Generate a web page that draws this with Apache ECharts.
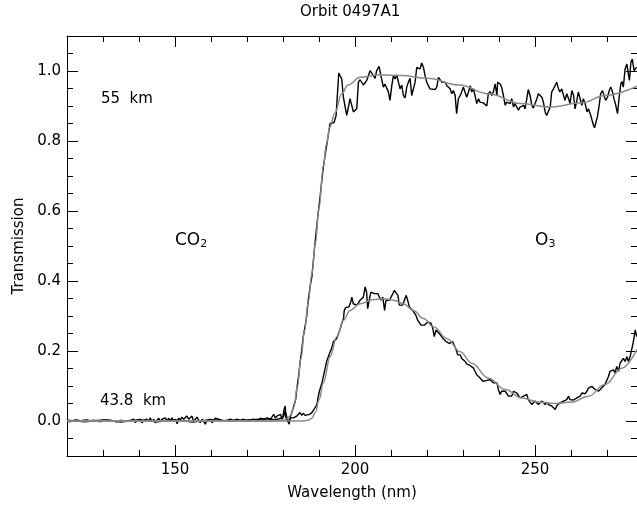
<!DOCTYPE html>
<html>
<head>
<meta charset="utf-8">
<script src="https://cdn.jsdelivr.net/npm/echarts@6/dist/echarts.min.js"></script>
<style>
  html, body { margin: 0; padding: 0; background: #fff; }
  #chart { width: 637px; height: 506px; }
</style>
</head>
<body>
<div id="chart"></div>
<script>
// ticks
var xMajor = [150, 200, 250];
var xMinor = [130, 140, 160, 170, 180, 190, 210, 220, 230, 240, 260, 270];
var yMajor = [0, 0.2, 0.4, 0.6, 0.8, 1.0];
var yMinor = [-0.05, 0.05, 0.1, 0.15, 0.25, 0.3, 0.35, 0.45, 0.5, 0.55, 0.65, 0.7, 0.75, 0.85, 0.9, 0.95, 1.05];

// 55 km measured transmission [wavelength nm, T]
var obs55 = [
  [120, 0.002], [125, -0.002], [130, 0.003], [135, -0.003], [140, 0.004], [145, -0.002], [150, 0.003],
  [155, -0.003], [160, 0.004], [165, 0.000], [170, 0.003], [175, 0.006], [178, 0.004],
  [179.2, 0.007], [179.9, 0.010], [180.3, 0.033], [180.6, 0.043], [180.8, 0.010], [181.2, 0.014],
  [181.7, -0.009], [182.1, 0.014], [182.7, 0.033], [183.1, 0.047], [183.5, 0.061], [183.8, 0.090],
  [184.3, 0.127], [184.7, 0.165], [185.2, 0.203], [185.6, 0.241], [186.1, 0.269], [186.6, 0.302],
  [187.0, 0.345], [187.5, 0.383], [188.0, 0.411], [188.8, 0.50], [189.5, 0.57], [190.3, 0.642],
  [191.2, 0.727], [193.06, 0.850], [194.17, 0.853], [194.73, 0.873], [195.47, 0.994], [196.3, 0.977],
  [196.76, 0.925], [197.2, 0.921], [197.69, 0.873], [198.15, 0.897], [198.6, 0.921], [199.07, 0.923],
  [199.54, 0.883], [200.0, 0.878], [200.47, 0.892], [200.93, 0.968], [201.4, 0.975], [202.3, 0.96],
  [203.24, 0.973], [204.17, 1.001], [204.6, 1.006], [205.1, 0.987], [205.56, 0.979], [206.0, 1.001],
  [206.67, 1.013], [207.13, 0.989], [207.87, 0.954], [208.3, 0.963], [208.8, 0.951], [209.26, 0.940],
  [209.7, 0.916], [210.2, 0.958], [210.65, 0.987], [211.1, 0.977], [211.6, 0.989], [212.04, 0.968],
  [212.5, 0.949], [212.96, 0.960], [213.43, 0.930], [213.9, 0.923], [214.35, 0.954], [214.8, 0.968],
  [215.28, 0.979], [215.74, 0.930], [216.2, 0.930], [216.67, 0.968], [217.13, 1.010], [217.6, 1.015],
  [218.06, 1.006], [218.52, 1.023], [219.0, 1.010], [219.45, 0.987], [219.9, 0.968], [220.8, 0.949],
  [221.3, 0.944], [222.2, 0.947], [222.7, 0.954], [223.15, 0.982], [223.6, 0.977], [224.1, 0.968],
  [224.5, 0.963], [225.0, 0.968], [225.5, 0.958], [225.9, 0.963], [226.4, 0.949], [226.85, 0.935],
  [227.3, 0.944], [227.8, 0.930], [228.2, 0.878], [228.7, 0.921], [229.2, 0.930],
  [229.6, 0.940], [230.1, 0.954], [230.6, 0.949], [231.0, 0.925], [231.5, 0.940], [232.0, 0.958],
  [232.4, 0.940], [232.9, 0.949], [233.3, 0.930], [233.8, 0.907], [234.3, 0.921], [234.7, 0.911],
  [235.2, 0.907], [235.6, 0.909], [236.1, 0.904], [236.6, 0.900], [237.0, 0.935], [237.5, 0.941],
  [238.0, 0.930], [238.4, 0.940], [238.9, 0.963], [239.4, 0.930], [239.6, 0.968], [240.3, 0.963],
  [240.7, 0.954], [241.2, 0.930], [241.7, 0.902], [242.1, 0.911], [242.6, 0.916], [243.1, 0.907],
  [243.5, 0.921], [244.0, 0.897], [244.4, 0.907], [244.9, 0.902], [245.4, 0.888], [245.8, 0.897],
  [246.3, 0.892], [246.8, 0.902], [247.2, 0.892], [247.7, 0.921], [248.1, 0.947], [248.6, 0.930],
  [249.1, 0.902], [249.5, 0.894], [250.0, 0.897], [250.5, 0.921], [250.9, 0.935], [251.4, 0.930],
  [251.9, 0.925], [252.3, 0.911], [252.8, 0.883], [253.2, 0.873], [253.7, 0.869], [254.2, 0.897],
  [254.6, 0.940], [255.1, 0.949], [255.6, 0.954], [256.0, 0.968], [256.5, 0.949], [256.9, 0.940],
  [257.4, 0.949], [257.9, 0.930], [258.3, 0.916], [258.8, 0.935], [259.3, 0.921], [259.7, 0.907],
  [260.2, 0.944], [260.7, 0.930], [261.1, 0.892], [261.6, 0.916], [262.0, 0.940], [262.5, 0.935],
  [263.0, 0.902], [263.4, 0.921], [263.9, 0.907], [264.4, 0.883], [264.8, 0.892], [265.3, 0.878],
  [265.7, 0.864], [266.2, 0.845], [266.5, 0.838], [266.9, 0.840], [267.3, 0.869], [267.8, 0.902],
  [268.2, 0.935], [268.7, 0.944], [269.2, 0.949], [269.6, 0.916], [270.1, 0.925], [270.6, 0.944],
  [271.0, 0.954], [271.5, 0.940], [271.9, 0.921], [272.4, 0.902], [272.9, 0.878], [273.3, 0.921],
  [273.8, 0.963], [274.1, 0.970], [274.5, 0.954], [275.0, 1.006], [275.5, 1.020], [275.9, 0.992],
  [276.2, 0.973], [276.6, 1.025], [277.0, 1.034], [277.5, 1.001], [277.8, 1.006], [278.2, 1.011]
];

// 43.8 km measured transmission
var obs438 = [
  [120.0, 0.000], [120.9, -0.002], [121.9, 0.002], [122.8, 0.003], [123.7, 0.000], [124.6, 0.002],
  [125.6, 0.003], [126.5, 0.000], [127.4, 0.002], [128.3, 0.000], [129.3, -0.002], [130.2, 0.002],
  [131.1, 0.003], [132.0, 0.002], [133.0, 0.000], [133.9, -0.002], [134.8, 0.002], [135.7, 0.000],
  [136.2, 0.005], [136.7, 0.000], [137.1, -0.005], [137.6, 0.002], [138.1, -0.002], [138.5, 0.005],
  [139.0, -0.005], [139.4, 0.002], [139.9, -0.002], [140.4, 0.005], [140.8, -0.005], [141.3, 0.002],
  [142.2, 0.005], [142.7, -0.002], [143.1, 0.009], [143.6, -0.002], [144.1, 0.005], [144.5, -0.005],
  [145.0, 0.002], [145.5, 0.008], [145.9, -0.002], [146.4, 0.005], [146.9, 0.002], [147.3, 0.009],
  [147.8, 0.000], [148.2, 0.008], [148.7, 0.002], [149.2, 0.009], [149.6, -0.002], [150.1, 0.005],
  [150.6, -0.008], [151.0, 0.008], [151.5, 0.002], [151.9, 0.011], [152.4, 0.005], [152.9, 0.000],
  [153.3, 0.014], [153.8, 0.005], [154.3, 0.009], [154.7, 0.014], [155.2, -0.002], [155.6, 0.005],
  [156.1, 0.011], [156.6, 0.002], [157.0, -0.005], [157.5, 0.005], [158.0, -0.002], [158.4, -0.009],
  [158.9, 0.002], [159.4, 0.000], [159.8, 0.005], [160.3, -0.005], [160.7, 0.000], [161.2, 0.008],
  [161.7, 0.011], [162.1, 0.005], [162.6, 0.002], [163.5, 0.000], [164.4, 0.002], [165.4, 0.005],
  [166.3, 0.002], [167.2, 0.005], [168.1, 0.002], [169.1, 0.005], [170.0, 0.000], [170.9, 0.003],
  [171.9, 0.005], [172.8, 0.000], [173.7, 0.008], [174.6, 0.005], [175.6, 0.009], [176.0, 0.014],
  [176.5, 0.005], [176.9, 0.011], [177.4, 0.019], [177.9, 0.008], [178.3, 0.014], [179.3, 0.019],
  [179.7, 0.005], [180.2, 0.014], [180.6, 0.028], [181.1, 0.009], [181.6, -0.005], [182.0, 0.009],
  [182.9, 0.009], [183.8, 0.014],
  [184.7, 0.024], [185.2, 0.016], [185.6, 0.022], [186.1, 0.016], [186.6, 0.014], [187.3, 0.019],
  [188.0, 0.024], [188.4, 0.026], [188.9, 0.038], [189.4, 0.047], [189.8, 0.071], [190.1, 0.085],
  [190.5, 0.090], [190.8, 0.109], [191.2, 0.127], [191.7, 0.151], [192.1, 0.170], [192.6, 0.184],
  [193.1, 0.198], [193.5, 0.208], [194.0, 0.227], [194.4, 0.222], [194.9, 0.236], [195.4, 0.250],
  [195.8, 0.260], [196.3, 0.279], [196.8, 0.293], [197.0, 0.316], [197.4, 0.324], [197.9, 0.321],
  [198.3, 0.326], [198.8, 0.340], [199.1, 0.354], [199.5, 0.335], [200.0, 0.340], [200.5, 0.331],
  [200.9, 0.335], [201.4, 0.345], [201.9, 0.340], [202.3, 0.354], [202.8, 0.383], [203.2, 0.368],
  [203.5, 0.321], [204.0, 0.349], [204.4, 0.368], [204.9, 0.373], [205.4, 0.364], [205.8, 0.368],
  [206.3, 0.364], [206.8, 0.359], [207.2, 0.345], [207.7, 0.354], [208.2, 0.316], [208.6, 0.345],
  [209.1, 0.340], [209.5, 0.345], [210.0, 0.354], [210.5, 0.364], [210.9, 0.373], [211.4, 0.378],
  [211.9, 0.359], [212.3, 0.331], [212.8, 0.326], [213.2, 0.331], [213.7, 0.345], [214.2, 0.359],
  [214.6, 0.345], [215.1, 0.326], [215.6, 0.321], [216.0, 0.316], [216.5, 0.321], [216.9, 0.302],
  [217.4, 0.288], [217.9, 0.293], [218.3, 0.274], [218.8, 0.279], [219.3, 0.274], [219.7, 0.279],
  [220.2, 0.283], [220.6, 0.288], [221.1, 0.279], [221.6, 0.264], [222.0, 0.241], [222.5, 0.260],
  [223.0, 0.255], [223.4, 0.250], [223.9, 0.246], [224.4, 0.236], [224.8, 0.241], [225.3, 0.227],
  [225.7, 0.231], [226.2, 0.222], [226.7, 0.217], [227.1, 0.227], [227.6, 0.222], [228.1, 0.203],
  [228.5, 0.189], [229.0, 0.194], [229.2, 0.189], [229.6, 0.179], [230.1, 0.175], [230.6, 0.170],
  [231.0, 0.163], [231.5, 0.167], [232.0, 0.158], [232.4, 0.163], [232.9, 0.151], [233.3, 0.142],
  [233.8, 0.132], [234.3, 0.128], [234.7, 0.123], [235.2, 0.118], [235.6, 0.113], [236.1, 0.111],
  [236.6, 0.116], [237.0, 0.113], [237.5, 0.118], [238.0, 0.113], [238.4, 0.109], [238.9, 0.104],
  [239.4, 0.109], [239.8, 0.090], [240.3, 0.076], [240.7, 0.085], [241.2, 0.090], [241.7, 0.085],
  [242.1, 0.080], [242.6, 0.071], [243.1, 0.076], [243.5, 0.071], [244.0, 0.085], [244.4, 0.090],
  [244.9, 0.080], [245.4, 0.076], [245.8, 0.066], [246.3, 0.061], [246.8, 0.071], [247.2, 0.066],
  [247.7, 0.076], [248.1, 0.061], [248.6, 0.057], [249.1, 0.047], [249.5, 0.052], [250.0, 0.057],
  [250.5, 0.052], [250.9, 0.047], [251.4, 0.052], [251.9, 0.057], [252.3, 0.054], [252.8, 0.047],
  [253.2, 0.054], [253.7, 0.047], [254.2, 0.052], [254.6, 0.043], [255.1, 0.047], [255.6, 0.033],
  [256.0, 0.043], [256.5, 0.047], [256.9, 0.052], [257.4, 0.049], [257.9, 0.057], [258.3, 0.054],
  [258.8, 0.061], [259.3, 0.071], [259.7, 0.061], [260.2, 0.057], [260.7, 0.060], [261.1, 0.061],
  [261.6, 0.066], [262.0, 0.061], [262.5, 0.071], [263.0, 0.080], [263.4, 0.085], [263.9, 0.078],
  [264.4, 0.085], [264.8, 0.094], [265.3, 0.094], [265.7, 0.099], [266.2, 0.094], [266.7, 0.090],
  [267.1, 0.094], [267.6, 0.085], [268.1, 0.090], [268.5, 0.094], [269.0, 0.099], [269.4, 0.104],
  [269.9, 0.104], [270.4, 0.128], [270.8, 0.142], [271.3, 0.137], [271.8, 0.146], [272.2, 0.137],
  [272.7, 0.156], [273.2, 0.142], [273.6, 0.165], [274.1, 0.161], [274.5, 0.179], [275.0, 0.170],
  [275.5, 0.184], [275.9, 0.170], [276.4, 0.184], [276.9, 0.189], [277.3, 0.227], [277.8, 0.260],
  [278.2, 0.241]
];

// model fits (grey)
var fit55 = [
  [120, 0], [140, 0], [160, 0], [178, 0], [180, 0.002], [181, 0.006], [182, 0.015], [183, 0.04],
  [184, 0.1], [185, 0.18], [186, 0.26], [187, 0.34], [188, 0.42], [189, 0.51], [190, 0.61],
  [191.2, 0.727], [192, 0.79], [193, 0.84], [194.4, 0.88], [196.3, 0.935], [198, 0.96],
  [201.4, 0.982], [207, 0.989], [213, 0.987], [220, 0.979], [229, 0.96], [237, 0.935],
  [246, 0.907], [254, 0.897], [263, 0.909], [269.4, 0.93], [278.3, 0.957]
];
var fit438 = [
  [120, 0], [160, 0], [185, 0], [187, 0.002], [188, 0.008], [189, 0.025], [190, 0.06],
  [191.2, 0.109], [193.1, 0.184], [194.9, 0.241], [196.8, 0.288], [198.6, 0.316], [201.4, 0.335],
  [205.1, 0.347], [207.9, 0.349], [210.7, 0.345], [213.4, 0.335], [216.2, 0.316], [219, 0.293],
  [221.8, 0.269], [225.5, 0.236], [229.2, 0.198], [232.4, 0.165], [237, 0.123], [241.7, 0.09],
  [246.3, 0.066], [250.9, 0.054], [255.6, 0.05], [260.2, 0.054], [264.8, 0.071], [269.4, 0.104],
  [274.1, 0.151], [278.3, 0.205]
];

var FONT = 'DejaVu Sans';
var X_MIN = 120, X_MAX = 278.3, Y_MIN = -0.1, Y_MAX = 1.1;

function xAxisCfg(pos, ticks, len, withLine, withLabel) {
    return {
        type: 'value', position: pos, min: X_MIN, max: X_MAX,
        axisLine: { show: withLine, onZero: false, lineStyle: { color: '#000', width: 1 } },
        axisTick: { show: true, inside: true, length: len, customValues: ticks, lineStyle: { color: '#000', width: 1 } },
        axisLabel: withLabel ? { show: true, customValues: ticks, color: '#000', fontFamily: FONT, fontSize: 15, margin: 7 } : { show: false },
        splitLine: { show: false }
    };
}
function yAxisCfg(pos, ticks, len, withLine, withLabel) {
    return {
        type: 'value', position: pos, min: Y_MIN, max: Y_MAX,
        axisLine: { show: withLine, onZero: false, lineStyle: { color: '#000', width: 1 } },
        axisTick: { show: true, inside: true, length: len, customValues: ticks, lineStyle: { color: '#000', width: 1 } },
        axisLabel: withLabel ? {
            show: true, customValues: ticks, color: '#000', fontFamily: FONT, fontSize: 15, margin: 6,
            formatter: function (v) { return v.toFixed(1); }
        } : { show: false },
        splitLine: { show: false }
    };
}

var xMain = xAxisCfg('bottom', xMajor, 11, true, true);
xMain.name = 'Wavelength (nm)';
xMain.nameLocation = 'middle';
xMain.nameGap = 30;
xMain.nameTextStyle = { color: '#000', fontFamily: FONT, fontSize: 15 };

var yMain = yAxisCfg('left', yMajor, 11, true, true);
yMain.name = 'Transmission';
yMain.nameLocation = 'middle';
yMain.nameGap = 40;
yMain.nameTextStyle = { color: '#000', fontFamily: FONT, fontSize: 15 };

var chart = echarts.init(document.getElementById('chart'), null, { renderer: 'canvas' });
chart.setOption({
    animation: false,
    backgroundColor: '#fff',
    grid: { left: 67, right: 0, top: 36, bottom: 45, containLabel: false },
    xAxis: [
        xMain,
        xAxisCfg('bottom', xMinor, 6, false, false),
        xAxisCfg('top', xMajor, 11, true, false),
        xAxisCfg('top', xMinor, 6, false, false)
    ],
    yAxis: [
        yMain,
        yAxisCfg('left', yMinor, 6, false, false),
        yAxisCfg('right', yMajor, 11, true, false),
        yAxisCfg('right', yMinor, 6, false, false)
    ],
    series: [
        { type: 'line', data: obs438, showSymbol: false, lineStyle: { color: '#000', width: 1.4 }, z: 2 },
        { type: 'line', data: obs55, showSymbol: false, lineStyle: { color: '#000', width: 1.4 }, z: 2 },
        { type: 'line', data: fit438, showSymbol: false, smooth: 0.4, smoothMonotone: 'x', lineStyle: { color: '#8a8a8a', width: 1.5 }, z: 3 },
        { type: 'line', data: fit55, showSymbol: false, smooth: 0.4, smoothMonotone: 'x', lineStyle: { color: '#8a8a8a', width: 1.5 }, z: 3 }
    ],
    graphic: [
        { type: 'text', left: 300, top: 5, style: { text: 'Orbit 0497A1', fill: '#000', font: '15px "DejaVu Sans"' } },
        { type: 'text', left: 101, top: 92, style: { text: '55  km', fill: '#000', font: '15px "DejaVu Sans"' } },
        { type: 'text', left: 100, top: 394, style: { text: '43.8  km', fill: '#000', font: '15px "DejaVu Sans"' } },
        {
            type: 'text', left: 175, top: 232,
            style: {
                text: '{b|CO}{s|2}', fill: '#000',
                rich: { b: { fontFamily: FONT, fontSize: 17, fill: '#000' }, s: { fontFamily: FONT, fontSize: 11, fill: '#000', padding: [8, 0, 0, 0] } }
            }
        },
        {
            type: 'text', left: 535, top: 232,
            style: {
                text: '{b|O}{s|3}', fill: '#000',
                rich: { b: { fontFamily: FONT, fontSize: 17, fill: '#000' }, s: { fontFamily: FONT, fontSize: 11, fill: '#000', padding: [8, 0, 0, 0] } }
            }
        }
    ]
});
</script>
</body>
</html>
